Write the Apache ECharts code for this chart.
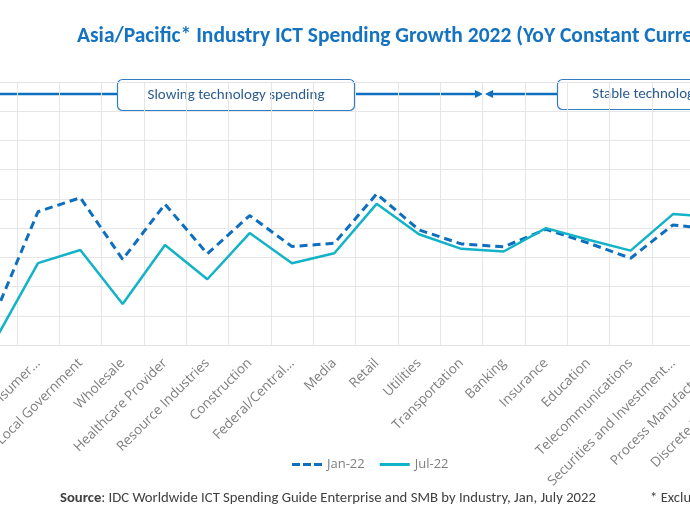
<!DOCTYPE html>
<html>
<head>
<meta charset="utf-8">
<script src="https://cdn.jsdelivr.net/npm/echarts@6/dist/echarts.min.js"></script>
<style>html,body{margin:0;padding:0;background:#fff}#c{width:690px;height:521px}</style>
</head>
<body>
<div id="c"></div>
<script>
var categories = ["Professional Services", "Personal and Consumer...", "Local Government", "Wholesale", "Healthcare Provider", "Resource Industries", "Construction", "Federal/Central...", "Media", "Retail", "Utilities", "Transportation", "Banking", "Insurance", "Education", "Telecommunications", "Securities and Investment...", "Process Manufacturing", "Discrete Manufacturing"];
var jan22 = [1.1, 4.56, 5.04, 2.93, 4.82, 3.12, 4.43, 3.37, 3.48, 5.17, 3.94, 3.46, 3.36, 3.96, 3.49, 2.97, 4.11, 3.95, 4.2];
var jul22 = [0.2, 2.8, 3.25, 1.4, 3.42, 2.25, 3.83, 2.8, 3.14, 4.83, 3.79, 3.29, 3.2, 4.0, 3.6, 3.23, 4.48, 4.38, 4.5];
var seriesNames = ["Jan-22", "Jul-22"];
var yTicks = {min: 0, max: 9, interval: 1};

var CAL = "Carlito, 'Liberation Sans Narrow', 'Open Sans', sans-serif";
var OS = "'Open Sans', sans-serif";
var chart = echarts.init(document.getElementById('c'), null, {renderer: 'canvas'});
var blue = '#0E6FBF', teal = '#12B3C7', boxBorder = '#2F7EC5';
chart.setOption({
  animation: false,
  backgroundColor: '#ffffff',
  title: {
    text: 'Asia/Pacific* Industry ICT Spending Growth 2022 (YoY Constant Currency)',
    left: 72, top: 21,
    textStyle: {fontFamily: CAL, fontWeight: 'bold', fontSize: 21.5, color: '#1573C1'}
  },
  legend: {
    left: 287, top: 453, itemWidth: 30, itemHeight: 3, itemGap: 15,
    textStyle: {fontFamily: OS, fontSize: 13, color: '#7F7F7F'},
    data: [
      {name: seriesNames[0], icon: 'path://M0,0h8v3h-8z M11,0h8v3h-8z M22,0h8v3h-8z'},
      {name: seriesNames[1], icon: 'path://M0,0h30v3h-30z'}
    ]
  },
  grid: {left: -25.5, right: -88.8, top: 82, height: 263, containLabel: false, outerBoundsMode: 'none'},
  xAxis: {
    type: 'category', data: categories, boundaryGap: true,
    axisLine: {show: true, lineStyle: {color: '#E3E3E3', width: 1}},
    axisTick: {show: false},
    splitLine: {show: true, lineStyle: {color: '#E6E6E6', width: 1}},
    axisLabel: {interval: 0, rotate: 45, margin: 16, fontFamily: OS, fontSize: 13.5, color: '#7F7F7F'}
  },
  yAxis: {
    type: 'value', min: yTicks.min, max: yTicks.max, interval: yTicks.interval,
    axisLabel: {show: false}, axisLine: {show: false}, axisTick: {show: false},
    splitLine: {show: true, lineStyle: {color: '#E6E6E6', width: 1}}
  },
  series: [
    {name: seriesNames[0], type: 'line', data: jan22, symbol: 'none', smooth: false,
     lineStyle: {color: blue, width: 3, type: [8, 5]}, itemStyle: {color: blue}},
    {name: seriesNames[1], type: 'line', data: jul22, symbol: 'none', smooth: false,
     lineStyle: {color: teal, width: 2.5}, itemStyle: {color: teal}}
  ],
  graphic: [
    {type: 'line', shape: {x1: 0, y1: 94, x2: 117, y2: 94}, style: {stroke: blue, lineWidth: 2.5}},
    {type: 'line', shape: {x1: 355, y1: 94, x2: 476, y2: 94}, style: {stroke: blue, lineWidth: 2.5}},
    {type: 'polygon', shape: {points: [[483, 94], [475, 90], [475, 98]]}, style: {fill: blue}},
    {type: 'line', shape: {x1: 492, y1: 94, x2: 557, y2: 94}, style: {stroke: blue, lineWidth: 2.5}},
    {type: 'polygon', shape: {points: [[485, 94], [493, 90], [493, 98]]}, style: {fill: blue}},
    {type: 'rect', shape: {x: 117.5, y: 79.5, width: 237, height: 31, r: 5},
     style: {fill: '#fff', stroke: boxBorder, lineWidth: 1.2}},
    {type: 'text', x: 236, y: 95, style: {text: 'Slowing technology spending', fontFamily: CAL, fontSize: 15,
     fill: '#2B5C8F', align: 'center', verticalAlign: 'middle'}},
    {type: 'rect', shape: {x: 557.5, y: 79.5, width: 237, height: 30, r: 5},
     style: {fill: '#fff', stroke: boxBorder, lineWidth: 1.2}},
    {type: 'text', x: 676, y: 94, style: {text: 'Stable technology spending', fontFamily: CAL, fontSize: 15,
     fill: '#2B5C8F', align: 'center', verticalAlign: 'middle'}},
    {type: 'text', x: 60, y: 498, style: {
      text: '{b|Source}: IDC Worldwide ICT Spending Guide Enterprise and SMB by Industry, Jan, July 2022',
      verticalAlign: 'middle', fontFamily: CAL, fontSize: 14.7, fill: '#404040',
      rich: {b: {fontFamily: CAL, fontSize: 14.7, fontWeight: 'bold', fill: '#404040'}}}},
    {type: 'text', x: 650, y: 498, style: {text: '* Excluding Japan', verticalAlign: 'middle',
      fontFamily: CAL, fontSize: 14.7, fill: '#404040'}}
  ]
});
</script>
</body>
</html>
